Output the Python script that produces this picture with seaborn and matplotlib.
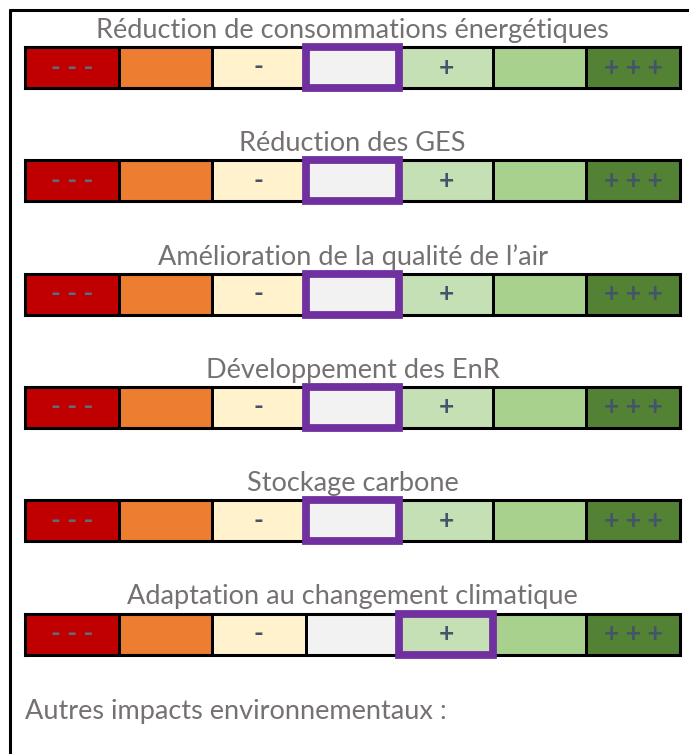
import numpy as np
import matplotlib
matplotlib.use("Agg")
import matplotlib.pyplot as plt
from matplotlib.colors import ListedColormap
from matplotlib.patches import Rectangle
from matplotlib.lines import Line2D
import seaborn as sns

# ---- data ----
criteria = [
    "Réduction de consommations énergétiques",
    "Réduction des GES",
    "Amélioration de la qualité de l’air",
    "Développement des EnR",
    "Stockage carbone",
    "Adaptation au changement climatique",
]
scale_levels = [-3, -2, -1, 0, 1, 2, 3]
scale_labels = ["- - -", "", "-", "", "+", "", "+ + +"]
scale_colors = ["#C00000", "#ED7D31", "#FFF2CC", "#F2F2F2", "#C5E0B4", "#A9D18E", "#548235"]
selected = [0, 0, 0, 0, 0, 1]
footer = "Autres impacts environnementaux :"

sns.set_theme(style="white")
plt.rcParams["font.family"] = ["Lato", "DejaVu Sans"]

W, H = 689, 754
fig = plt.figure(figsize=(W / 100, H / 100), dpi=100)

title_color = "#767171"
mark_color = "#44546A"
cmap = ListedColormap(scale_colors)
row_vals = np.array([scale_levels])
row_annot = np.array([scale_labels])

left_px, width_px, h_px = 25, 655, 41
top0, step = 47, 113.3

for i, (name, sel) in enumerate(zip(criteria, selected)):
    top = top0 + step * i
    ax = fig.add_axes([left_px / W, 1 - (top + h_px) / H, width_px / W, h_px / H])
    sns.heatmap(row_vals, ax=ax, cmap=cmap, vmin=-3.5, vmax=3.5, cbar=False,
                annot=row_annot, fmt="", linewidths=1.8, linecolor="black",
                xticklabels=False, yticklabels=False,
                annot_kws={"color": mark_color, "fontsize": 19, "fontweight": "bold"})
    for t in ax.texts:
        if t.get_text() == "- - -":
            t.set_color("#5F6B7C")
    for sp in ax.spines.values():
        sp.set_visible(True)
        sp.set_color("black")
        sp.set_linewidth(2.2)
    j = scale_levels.index(sel)
    ax.add_patch(Rectangle((j, 0), 1, 1, fill=False, edgecolor="#7030A0",
                           linewidth=5.6, clip_on=False, zorder=10))
    ax.set_title(name, color=title_color, fontsize=19.5, pad=6.5)

fig.text(left_px / W, 1 - 712 / H, footer, color=title_color, fontsize=19.5,
         ha="left", va="center")

# partial frame: top and left
fig.add_artist(Line2D([10 / W, 1], [1 - 10 / H, 1 - 10 / H], color="black", lw=2.2,
                      transform=fig.transFigure))
fig.add_artist(Line2D([10 / W, 10 / W], [1 - 10 / H, 0], color="black", lw=2.2,
                      transform=fig.transFigure))

fig.savefig("out.png", dpi=100, facecolor="white")
